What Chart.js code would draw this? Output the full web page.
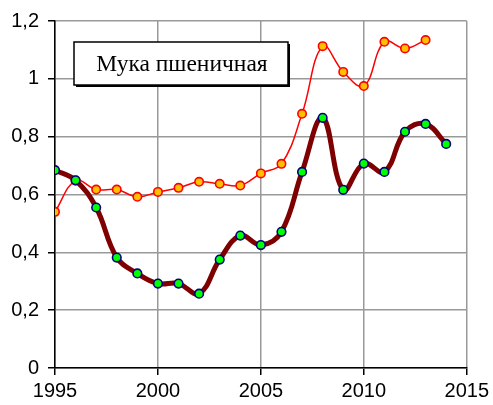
<!DOCTYPE html>
<html lang="ru">
<head>
    <meta charset="UTF-8">
    <title>Мука пшеничная</title>
    <script src="https://cdn.jsdelivr.net/npm/chart.js"></script>
    <style>
        html, body { margin: 0; padding: 0; background: #fff; }
        .chart-container { width: 493px; height: 405px; position: relative; }
    </style>
</head>
<body>
    <div class="chart-container">
        <canvas id="flourChart"></canvas>
    </div>

    <script>
    // years and values
    const years = [1995, 1996, 1997, 1998, 1999, 2000, 2001, 2002, 2003, 2004,
                   2005, 2006, 2007, 2008, 2009, 2010, 2011, 2012, 2013, 2014];
    const darkValues = [0.684, 0.649, 0.555, 0.382, 0.327, 0.292, 0.292, 0.257, 0.375, 0.458,
                        0.425, 0.471, 0.678, 0.865, 0.616, 0.707, 0.678, 0.817, 0.844, 0.775];
    const orangeValues = [0.540, 0.648, 0.617, 0.617, 0.592, 0.609, 0.623, 0.644, 0.637, 0.631,
                          0.673, 0.706, 0.879, 1.113, 1.024, 0.975, 1.128, 1.105, 1.134, null];
    const titleText = 'Мука пшеничная';

    const toPoints = vals => years.map((y, i) => ({ x: y, y: vals[i] }));

    const titleBox = {
        id: 'titleBox',
        afterDraw(chart) {
            const ctx = chart.ctx;
            const x = 74, y = 42, w = 214, h = 43;
            ctx.save();
            ctx.fillStyle = '#000';
            ctx.fillRect(x + 2, y + 2, w, h);
            ctx.fillStyle = '#fff';
            ctx.fillRect(x, y, w, h);
            ctx.strokeStyle = '#000';
            ctx.lineWidth = 1.5;
            ctx.strokeRect(x, y, w, h);
            ctx.fillStyle = '#000';
            ctx.font = '23.5px "Liberation Serif", "Times New Roman", serif';
            ctx.textAlign = 'center';
            ctx.textBaseline = 'middle';
            ctx.fillText(titleText, x + w / 2 + 1, y + h / 2 + 1);
            ctx.restore();
        }
    };

    const tickFont = { family: '"Liberation Sans", Arial, sans-serif', size: 20 };

    new Chart(document.getElementById('flourChart').getContext('2d'), {
        type: 'line',
        data: {
            datasets: [{
                data: toPoints(darkValues),
                borderColor: '#7f0000',
                borderWidth: 5,
                tension: 0.4,
                pointRadius: 4.3,
                pointBorderWidth: 1.6,
                pointBackgroundColor: '#00ff00',
                pointBorderColor: '#000080'
            }, {
                data: toPoints(orangeValues),
                borderColor: '#ff0000',
                borderWidth: 1.5,
                tension: 0.4,
                pointRadius: 4.2,
                pointBorderWidth: 1.6,
                pointBackgroundColor: '#ffc000',
                pointBorderColor: '#ff0000'
            }]
        },
        options: {
            responsive: true,
            maintainAspectRatio: false,
            animation: false,
            layout: { padding: { top: 21, right: 25, left: 0, bottom: 0 } },
            plugins: { legend: { display: false }, tooltip: { enabled: false } },
            scales: {
                x: {
                    type: 'linear',
                    min: 1995,
                    max: 2015,
                    ticks: { stepSize: 5, color: '#000', font: tickFont, padding: 4,
                             maxRotation: 0, callback: v => String(v) },
                    grid: { color: '#999', lineWidth: 1.5, tickLength: 7, tickColor: '#000' },
                    border: { color: '#000', width: 1.5 },
                    afterFit(scale) { scale.height = 37; }
                },
                y: {
                    min: 0,
                    max: 1.2,
                    ticks: { stepSize: 0.2, color: '#000', font: tickFont, padding: 9,
                             callback: v => String(Math.round(v * 10) / 10).replace('.', ',') },
                    grid: { color: '#999', lineWidth: 1.5, tickLength: 7, tickColor: '#000' },
                    border: { color: '#000', width: 1.5 },
                    afterFit(scale) { scale.width = 55; }
                }
            }
        },
        plugins: [titleBox]
    });
    </script>
</body>
</html>
